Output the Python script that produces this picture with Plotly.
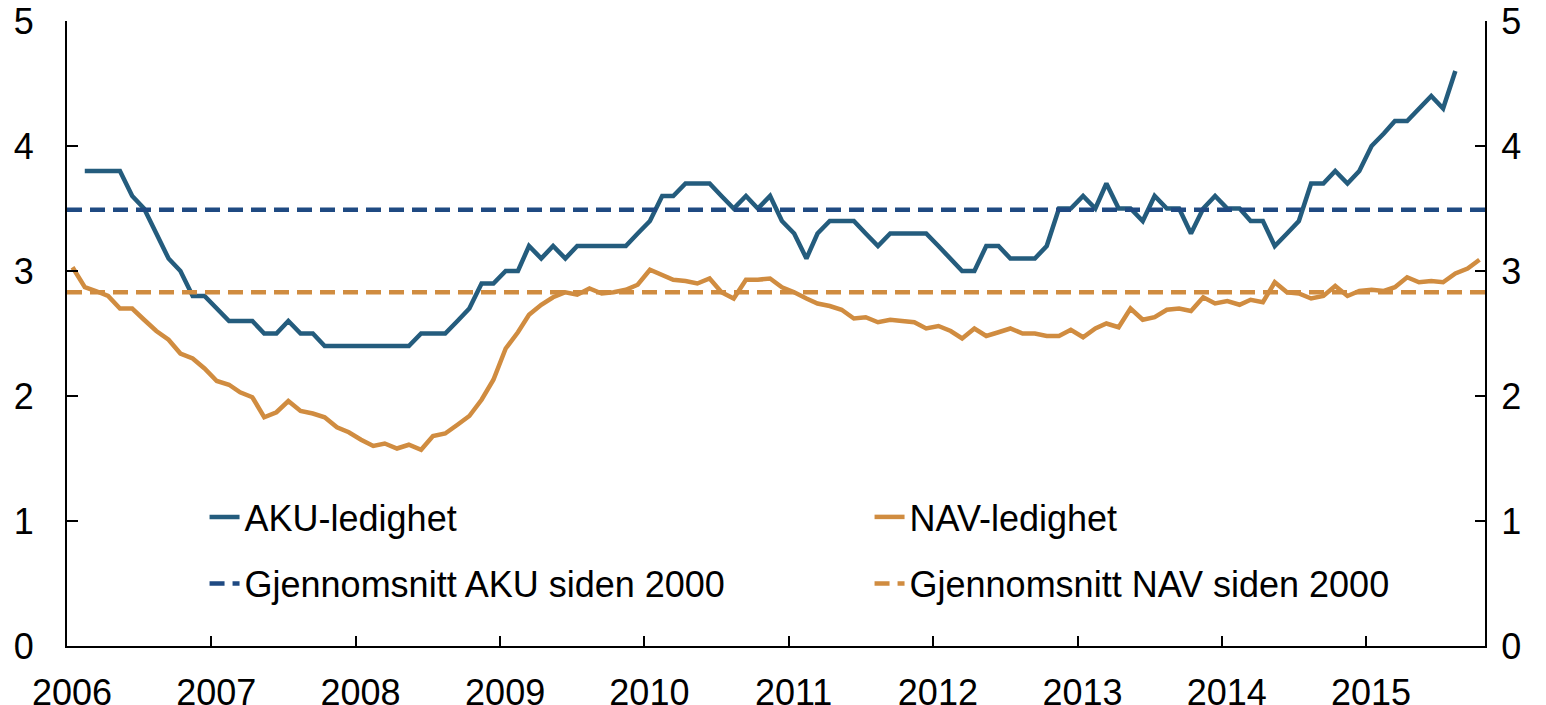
import plotly.graph_objects as go

# ---------------- data ----------------
aku_start = (2006, 2)   # first month of AKU series
aku = [3.8, 3.8, 3.8, 3.8, 3.6, 3.5, 3.3, 3.1, 3.0, 2.8, 2.8,
       2.7, 2.6, 2.6, 2.6, 2.5, 2.5, 2.6, 2.5, 2.5, 2.4, 2.4, 2.4,
       2.4, 2.4, 2.4, 2.4, 2.4, 2.5, 2.5, 2.5, 2.6, 2.7, 2.9, 2.9,
       3.0, 3.0, 3.2, 3.1, 3.2, 3.1, 3.2, 3.2, 3.2, 3.2, 3.2, 3.3,
       3.4, 3.6, 3.6, 3.7, 3.7, 3.7, 3.6, 3.5, 3.6, 3.5, 3.6, 3.4,
       3.3, 3.1, 3.3, 3.4, 3.4, 3.4, 3.3, 3.2, 3.3, 3.3, 3.3, 3.3,
       3.2, 3.1, 3.0, 3.0, 3.2, 3.2, 3.1, 3.1, 3.1, 3.2, 3.5, 3.5,
       3.6, 3.5, 3.7, 3.5, 3.5, 3.4, 3.6, 3.5, 3.5, 3.3, 3.5, 3.6,
       3.5, 3.5, 3.4, 3.4, 3.2, 3.3, 3.4, 3.7, 3.7, 3.8, 3.7, 3.8,
       4.0, 4.1, 4.2, 4.2, 4.3, 4.4, 4.3, 4.6]

nav_start = (2006, 1)   # first month of NAV series
nav = [3.03, 2.87, 2.84, 2.80, 2.70, 2.70, 2.61, 2.52, 2.45, 2.34, 2.30, 2.22,
       2.12, 2.09, 2.03, 1.99, 1.83, 1.87, 1.96, 1.88, 1.86, 1.83, 1.75, 1.71,
       1.65, 1.60, 1.62, 1.58, 1.61, 1.57, 1.68, 1.70, 1.77, 1.84, 1.97, 2.13,
       2.38, 2.51, 2.65, 2.73, 2.79, 2.83, 2.81, 2.86, 2.82, 2.83, 2.85, 2.89,
       3.01, 2.97, 2.93, 2.92, 2.90, 2.94, 2.83, 2.78, 2.93, 2.93, 2.94, 2.87,
       2.83, 2.78, 2.74, 2.72, 2.69, 2.62, 2.63, 2.59, 2.61, 2.60, 2.59, 2.54,
       2.56, 2.52, 2.46, 2.54, 2.48, 2.51, 2.54, 2.50, 2.50, 2.48, 2.48, 2.53,
       2.47, 2.54, 2.58, 2.55, 2.70, 2.61, 2.63, 2.69, 2.70, 2.68, 2.79, 2.74,
       2.76, 2.73, 2.77, 2.75, 2.91, 2.83, 2.82, 2.78, 2.80, 2.88, 2.80, 2.84,
       2.85, 2.84, 2.87, 2.95, 2.91, 2.92, 2.91, 2.98, 3.02, 3.09]

aku_mean = 3.49
nav_mean = 2.83

x_range = ["2006-01-01", "2015-10-29"]
year_ticks = [f"{y}-01-01" for y in range(2006, 2016)]
year_labels = [str(y) for y in range(2006, 2016)]
y_ticks = [0, 1, 2, 3, 4, 5]

names = ["AKU-ledighet", "NAV-ledighet",
         "Gjennomsnitt AKU siden 2000", "Gjennomsnitt NAV siden 2000"]


def month_dates(start, n):
    y, m = start
    out = []
    for _ in range(n):
        out.append(f"{y}-{m:02d}-15")
        m += 1
        if m > 12:
            m = 1
            y += 1
    return out


aku_x = month_dates(aku_start, len(aku))
nav_x = month_dates(nav_start, len(nav))

# ---------------- styles ----------------
C_AKU = "#245C7D"
C_AKU_MEAN = "#1F4A82"
C_NAV = "#D08C40"
FONT = "Liberation Sans, Arial, sans-serif"
FS = 36

fig = go.Figure()
fig.add_trace(go.Scatter(x=aku_x, y=aku, mode="lines", name=names[0],
                         line=dict(color=C_AKU, width=4.5), legend="legend"))
fig.add_trace(go.Scatter(x=nav_x, y=nav, mode="lines", name=names[1],
                         line=dict(color=C_NAV, width=4.5), legend="legend"))
fig.add_trace(go.Scatter(x=x_range, y=[aku_mean, aku_mean], mode="lines", name=names[2],
                         line=dict(color=C_AKU_MEAN, width=4.5, dash="15px,8px"),
                         legend="legend2"))
fig.add_trace(go.Scatter(x=x_range, y=[nav_mean, nav_mean], mode="lines", name=names[3],
                         line=dict(color=C_NAV, width=4.5, dash="15px,8px"),
                         legend="legend2"))
# invisible trace to carry the right axis
fig.add_trace(go.Scatter(x=x_range, y=[None, None], yaxis="y2", showlegend=False,
                         hoverinfo="skip"))

axis_common = dict(showgrid=False, zeroline=False, showline=True, linecolor="black",
                   linewidth=2, ticks="inside", tickcolor="black", tickwidth=2,
                   automargin=False, ticklabeloverflow="allow",
                   tickfont=dict(family=FONT, size=FS, color="black"))

fig.update_layout(
    width=1546, height=705,
    # the page body adds an 8px offset; margins compensate so the plot area
    # lands at x 67..1485, y 21..646 in the window
    margin=dict(l=59, r=69, t=13, b=67, autoexpand=False),
    paper_bgcolor="white", plot_bgcolor="white",
    font=dict(family=FONT, size=FS, color="black"),
    xaxis=dict(type="date", range=x_range, tickmode="array", tickvals=year_ticks,
               ticktext=year_labels, ticklen=10, ticklabelstandoff=14,
               ticklabelshift=5, **axis_common),
    yaxis=dict(range=[0, 5], tickmode="array", tickvals=y_ticks, ticklen=11,
               ticklabelstandoff=24, **axis_common),
    yaxis2=dict(range=[0, 5], overlaying="y", side="right", tickmode="array",
                tickvals=y_ticks, ticklen=10, ticklabelstandoff=7, **axis_common),
    legend=dict(orientation="h", x=0.097, y=0.2064, xanchor="left", yanchor="middle",
                entrywidth=620, entrywidthmode="pixels", bgcolor="rgba(0,0,0,0)",
                font=dict(family=FONT, size=FS, color="black")),
    legend2=dict(orientation="h", x=0.097, y=0.1, xanchor="left", yanchor="middle",
                 entrywidth=620, entrywidthmode="pixels", bgcolor="rgba(0,0,0,0)",
                 font=dict(family=FONT, size=FS, color="black")),
    showlegend=True,
)

fig.write_html("out.html")
